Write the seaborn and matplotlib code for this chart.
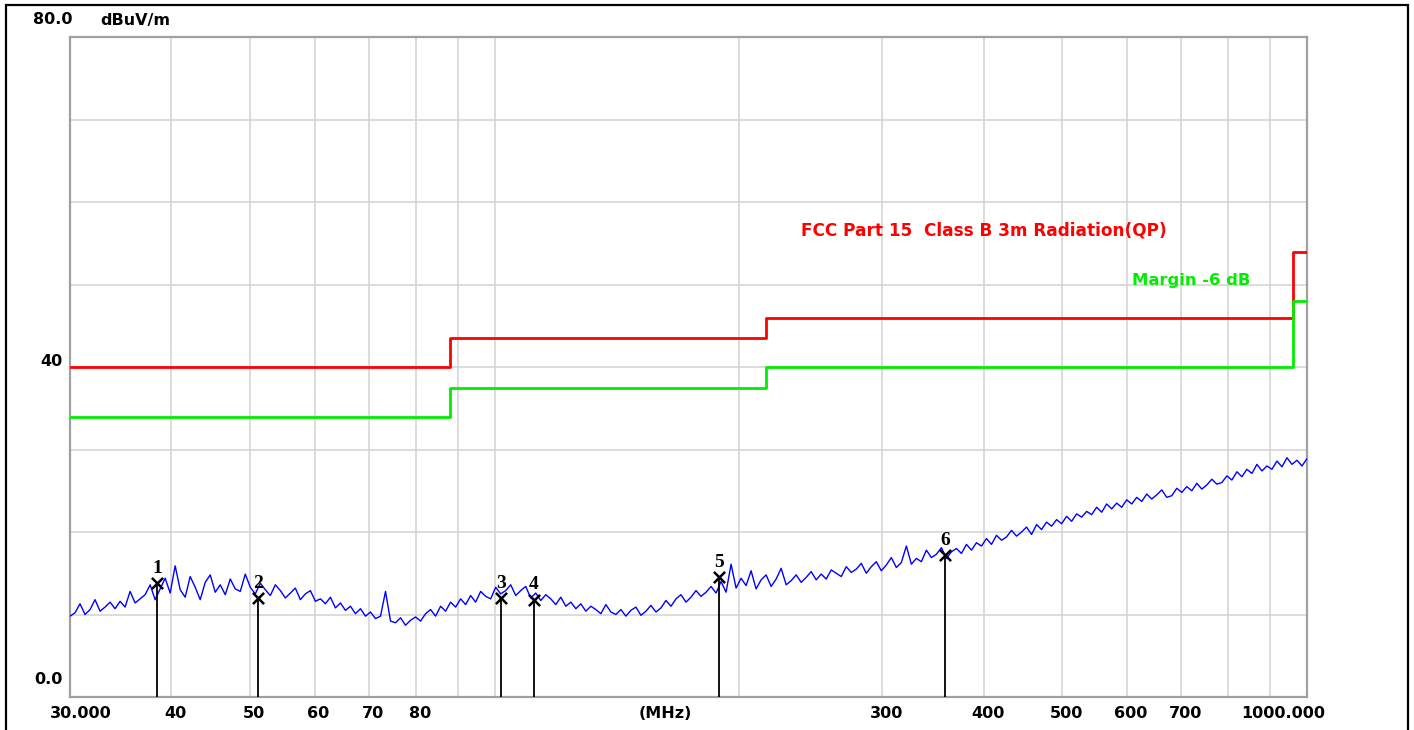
import numpy as np
import pandas as pd
import matplotlib
matplotlib.use("Agg")
import matplotlib.pyplot as plt
from matplotlib.patches import Rectangle
import seaborn as sns

# ---------------- data ----------------
# measured trace (dBuV/m), sweep from 30 MHz to 1000 MHz (log-spaced sweep points)
trace_db = [
    9.8, 10.2, 11.3, 10.0, 10.6, 11.8, 10.4, 10.9, 11.5, 10.7,
    11.6, 10.9, 12.8, 11.4, 11.9, 12.4, 13.6, 11.8, 13.1, 14.4,
    12.6, 15.9, 13.0, 12.1, 14.6, 13.3, 11.8, 13.9, 14.8, 12.7,
    13.6, 12.4, 14.3, 13.1, 12.8, 14.9, 13.3, 12.5, 13.8, 13.0,
    12.3, 13.6, 12.9, 12.0, 12.6, 13.2, 11.8, 12.5, 12.9, 11.6,
    11.9, 11.3, 12.1, 10.8, 11.4, 10.5, 11.0, 10.1, 10.7, 9.8,
    10.3, 9.5, 9.8, 12.8, 9.2, 9.0, 9.6, 8.7, 9.3, 9.7,
    9.2, 10.1, 10.6, 9.8, 11.0, 10.4, 11.5, 10.9, 11.9, 11.2,
    12.3, 11.5, 12.8, 12.2, 11.9, 13.3, 12.5, 12.9, 13.6, 12.3,
    12.9, 13.4, 12.0, 12.6, 11.7, 12.4, 11.9, 11.2, 12.1, 11.0,
    11.5, 10.7, 11.3, 10.4, 11.0, 10.6, 10.1, 11.2, 10.3, 10.0,
    10.6, 9.8, 10.5, 10.9, 9.9, 10.4, 11.1, 10.3, 10.8, 11.7,
    11.0, 11.9, 12.4, 11.5, 12.1, 12.9, 12.2, 12.7, 13.4, 12.6,
    14.0, 12.7, 16.1, 13.2, 14.4, 13.5, 15.3, 13.1, 14.2, 14.8,
    13.4, 14.3, 15.6, 13.6, 14.1, 14.8, 13.9, 14.5, 15.2, 14.2,
    14.9, 14.3, 15.4, 15.0, 14.6, 15.8, 15.1, 15.5, 16.2, 15.0,
    15.8, 16.4, 15.3, 16.0, 16.9, 15.7, 16.3, 18.3, 16.1, 16.8,
    16.4, 17.8, 16.9, 17.3, 18.1, 16.8, 17.6, 18.0, 17.4, 18.5,
    17.8, 18.7, 18.3, 19.2, 18.5, 19.6, 19.0, 19.4, 20.2, 19.5,
    20.0, 20.6, 19.7, 20.9, 20.3, 21.2, 20.7, 21.5, 21.0, 21.9,
    21.3, 22.2, 21.8, 22.5, 22.1, 23.0, 22.4, 23.4, 22.8, 23.5,
    23.0, 23.9, 23.4, 24.2, 23.7, 24.6, 24.0, 24.5, 25.1, 24.2,
    24.4, 25.3, 24.8, 25.5, 25.0, 25.9, 25.2, 25.7, 26.4, 25.8,
    26.0, 26.8, 26.3, 27.3, 26.7, 27.6, 27.1, 28.2, 27.4, 28.0,
    27.6, 28.6, 27.9, 29.0, 28.2, 28.7, 28.0, 28.9,
]
trace_freq = np.geomspace(30, 1000, len(trace_db))

# FCC Part 15 Class B 3 m limit and -6 dB margin (step edges)
limit_freq = [30, 88, 216, 960, 1000]
limit_db = [40.0, 43.5, 46.0, 54.0, 54.0]
margin_db = [34.0, 37.5, 40.0, 48.0, 48.0]

# marker points
marker_ids = ["1", "2", "3", "4", "5", "6"]
marker_freq = [38.4, 51.1, 101.8, 111.8, 188.9, 358.5]
marker_db = [13.8, 12.0, 12.0, 11.8, 14.5, 17.2]

# axis ticks
grid_freq = [40, 50, 60, 70, 80, 90, 100, 200, 300, 400, 500, 600, 700, 800, 900]
xlabel_freq = [30, 40, 50, 60, 70, 80, 300, 400, 500, 600, 700, 1000]
xlabel_text = ["30.000", "40", "50", "60", "70", "80", "300", "400", "500", "600", "700", "1000.000"]
grid_db = [10, 20, 30, 40, 50, 60, 70]
ylabel_db = [80, 40, 0]
ylabel_text = ["80.0", "40", "0.0"]

# ---------------- plot ----------------
sns.set_theme(style="white")
plt.rcParams["font.family"] = ["DejaVu Sans"]

W, H = 1414, 730
fig = plt.figure(figsize=(W / 100, H / 100), dpi=100)
fig.patch.set_facecolor("white")
ax = fig.add_axes([70 / W, 1 - 697 / H, 1237 / W, 660 / H])
ax.set_facecolor("white")

ax.set_xscale("log")
ax.set_xlim(30, 1000)
ax.set_ylim(0, 80)

ax.xaxis.set_major_locator(matplotlib.ticker.FixedLocator(grid_freq))
ax.xaxis.set_minor_locator(matplotlib.ticker.NullLocator())
ax.yaxis.set_major_locator(matplotlib.ticker.FixedLocator(grid_db))
ax.set_xticklabels([])
ax.set_yticklabels([])
ax.tick_params(length=0)
ax.grid(True, color="#d2d2d2", linewidth=1.1)
for s in ax.spines.values():
    s.set_color("#a0a0a0")
    s.set_linewidth(1.6)
    s.set_visible(True)

df_lim = pd.DataFrame({"f": limit_freq, "limit": limit_db, "margin": margin_db})
sns.lineplot(data=df_lim, x="f", y="limit", ax=ax, color="#ff0000", linewidth=2.0,
             drawstyle="steps-post", zorder=3)
sns.lineplot(data=df_lim, x="f", y="margin", ax=ax, color="#00ee00", linewidth=2.0,
             drawstyle="steps-post", zorder=3)

df_tr = pd.DataFrame({"f": trace_freq, "v": trace_db})
sns.lineplot(data=df_tr, x="f", y="v", ax=ax, color="#0000ff", linewidth=1.0,
             zorder=4)

ax.vlines(marker_freq, 0, marker_db, color="black", linewidth=1.3, zorder=5)
sns.scatterplot(x=marker_freq, y=marker_db, ax=ax, marker="x", s=65, color="black",
                linewidth=1.8, zorder=6)
for mid, mf, md in zip(marker_ids, marker_freq, marker_db):
    ax.annotate(mid, (mf, md), xytext=(0, 15), textcoords="offset pixels",
                ha="center", va="center", fontsize=14, fontweight="bold",
                family="Liberation Serif", color="black", zorder=7)

ax.set_xlabel("")
ax.set_ylabel("")

# x labels
for xf, xt in zip(xlabel_freq, xlabel_text):
    dx = 4
    if xt == "30.000":
        dx = 11
    elif xt == "1000.000":
        dx = -24
    ax.annotate(xt, (xf, 0), xycoords=("data", "axes fraction"), xytext=(dx, -17),
                textcoords="offset pixels", ha="center", va="center",
                fontsize=11.5, fontweight="bold", color="black", annotation_clip=False)
ax.annotate("(MHz)", (162, 0), xycoords=("data", "axes fraction"), xytext=(0, -17),
            textcoords="offset pixels", ha="center", va="center",
            fontsize=11.5, fontweight="bold", color="black", annotation_clip=False)

# y labels
for yv, yt in zip(ylabel_db, ylabel_text):
    dy = 5 if yt == "40" else 17
    dx = 3 if yt == "80.0" else -7
    ax.annotate(yt, (0, yv), xycoords=("axes fraction", "data"), xytext=(dx, dy),
                textcoords="offset pixels", ha="right", va="center",
                fontsize=11.5, fontweight="bold", color="black", annotation_clip=False)
ax.annotate("dBuV/m", (0, 80), xycoords=("axes fraction", "data"), xytext=(30, 17),
            textcoords="offset pixels", ha="left", va="center",
            fontsize=11.5, fontweight="bold", color="black", annotation_clip=False)

# limit captions
ax.text(238.3, 56.6, "FCC Part 15  Class B 3m Radiation(QP)", color="#ff0000",
        fontsize=12.2, fontweight="bold", ha="left", va="center")
ax.text(608.8, 50.5, "Margin -6 dB", color="#00ee00",
        fontsize=11.8, fontweight="bold", ha="left", va="center")

# outer frame
fig.patches.append(Rectangle((6 / W, -0.1), (1408 - 6) / W, 1.1 - 5 / H,
                             transform=fig.transFigure, fill=False,
                             edgecolor="black", linewidth=1.6))

fig.savefig("out.png", dpi=100, facecolor="white")
